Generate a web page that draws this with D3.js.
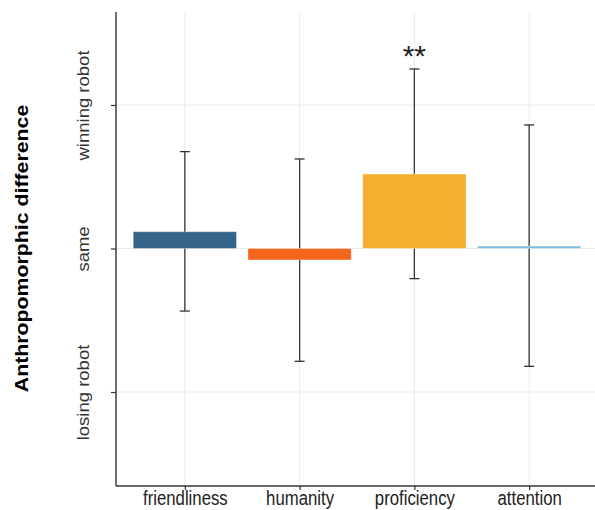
<!DOCTYPE html>
<html><head><meta charset="utf-8">
<script src="https://cdn.jsdelivr.net/npm/d3@7"></script>
<style>body{margin:0;background:#fff}svg text{font-family:"Liberation Sans",Arial,sans-serif}</style>
</head><body><svg id="c" width="595" height="510"></svg>
<script>
const categories = ["friendliness","humanity","proficiency","attention"];
const means = [0.117, -0.08, 0.519, 0.017];
const lower = [-0.436, -0.786, -0.21, -0.821];
const upper = [0.675, 0.624, 1.251, 0.861];
const colors = ["#35648a","#f4661b","#f5af2f","#82bbdd"];
const yTickValues = [-1, 0, 1];
const yTickLabels = ["losing robot","same","winning robot"];
const signif = ["","","**",""];

const svg = d3.select("#c");
const pL = 116, pR = 598, pT = 12, pB = 486;
const sx = 0.86; // horizontal text compression
const n = categories.length, unit = (pR-pL)/(n+0.2);
const xc = d3.scalePoint().domain(categories).range([pL+0.6*unit, pR-0.6*unit]);
const y = d3.scaleLinear().domain([-1.655, 1.648]).range([pB, pT]);
const bw = unit*0.9;

// grid
const g = svg.append("g");
g.selectAll(".gy").data(yTickValues).join("line")
  .attr("x1",pL).attr("x2",595).attr("y1",d=>y(d)).attr("y2",d=>y(d))
  .attr("stroke","#ebebeb").attr("stroke-width",1);
g.selectAll(".gx").data(categories).join("line")
  .attr("x1",d=>xc(d)).attr("x2",d=>xc(d)).attr("y1",pT).attr("y2",pB)
  .attr("stroke","#ebebeb").attr("stroke-width",1);

// error bars (drawn beneath bars)
const cap = 10;
const eb = svg.append("g").attr("stroke","#333").attr("stroke-width",1.3).attr("fill","none");
categories.forEach((c,i)=>{
  eb.append("line").attr("x1",xc(c)).attr("x2",xc(c)).attr("y1",y(lower[i])).attr("y2",y(upper[i]));
  eb.append("line").attr("x1",xc(c)-cap/2).attr("x2",xc(c)+cap/2).attr("y1",y(lower[i])).attr("y2",y(lower[i]));
  eb.append("line").attr("x1",xc(c)-cap/2).attr("x2",xc(c)+cap/2).attr("y1",y(upper[i])).attr("y2",y(upper[i]));
});

// bars
svg.selectAll(".bar").data(categories).join("rect")
  .attr("x",d=>xc(d)-bw/2).attr("width",bw)
  .attr("y",(d,i)=>y(Math.max(0,means[i])))
  .attr("height",(d,i)=>Math.abs(y(means[i])-y(0)))
  .attr("fill",(d,i)=>colors[i])
  .attr("stroke","#fff").attr("stroke-opacity",0.35).attr("stroke-width",1);

// significance
svg.selectAll(".sig").data(categories).join("text")
  .attr("x",d=>xc(d)).attr("y",(d,i)=>y(upper[i])-2.5)
  .attr("text-anchor","middle").attr("font-size",30).attr("fill","#222")
  .text((d,i)=>signif[i]);

// axes
const yAxis = d3.axisLeft(y).tickValues(yTickValues).tickSize(5).tickFormat((d,i)=>yTickLabels[i]);
const ya = svg.append("g").attr("transform",`translate(${pL},0)`).call(yAxis);
ya.select(".domain").attr("d",`M0,${pT}V${pB}`).attr("stroke","#333").attr("stroke-width",1.4);
ya.selectAll(".tick line").attr("stroke","#333").attr("stroke-width",1.2);
ya.selectAll(".tick text").attr("transform",`translate(${89-pL},0) scale(${sx},1) rotate(-90)`)
  .attr("x",0).attr("y",0).attr("dy","0").attr("text-anchor","middle")
  .attr("font-size",18.5).attr("fill","#333");

const xAxis = d3.axisBottom(xc).tickSize(4).tickSizeOuter(0);
const xa = svg.append("g").attr("transform",`translate(0,${pB})`).call(xAxis);
xa.select(".domain").attr("d",`M${pL},0H595`).attr("stroke","#333").attr("stroke-width",1.4);
xa.selectAll(".tick line").attr("stroke","#333").attr("stroke-width",1.2);
xa.selectAll(".tick text").attr("transform",`scale(${sx},1)`).attr("y",19.5).attr("dy","0")
  .attr("font-size",19.5).attr("fill","#222");

// title
svg.append("text").attr("transform",`translate(28,${y(0)}) scale(${sx},1) rotate(-90)`)
  .attr("text-anchor","middle").attr("font-size",21.3).attr("font-weight","bold").attr("fill","#000")
  .text("Anthropomorphic difference");
</script></body></html>
